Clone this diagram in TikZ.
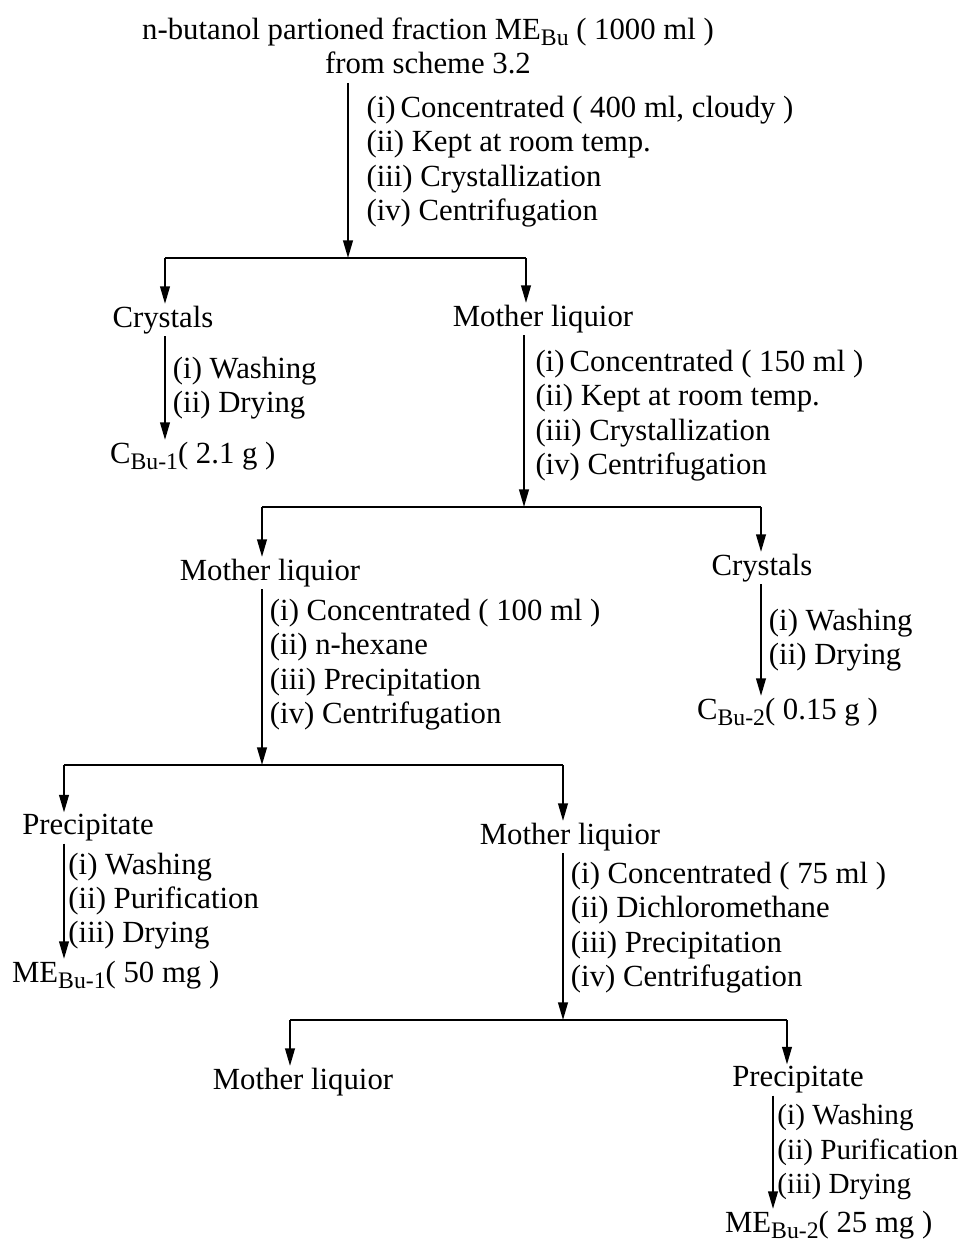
\documentclass[tikz,border=0pt]{standalone}
\usepackage{fontspec}
\setmainfont{Liberation Serif}
\usetikzlibrary{arrows.meta,positioning}
% lowered subscript for the fraction codes
\newcommand{\lowsub}[1]{\raisebox{-0.45ex}{\fontsize{13.5}{14}\selectfont #1}}

\begin{document}
\begin{tikzpicture}[x=0.02cm, y=-0.02cm,
  every node/.style={font=\fontsize{17.5}{19.5}\selectfont, inner sep=1pt},
  arr/.style={-{Triangle[length=10pt,width=5.5pt]}, line width=1.1pt},
  bar/.style={line width=1.1pt},
  steps/.style={right, align=left, inner xsep=4pt}]
\useasboundingbox (0,0) rectangle (961,1242);
% Starting fraction
\node[align=center, outer sep=4pt] (feed) at (428,46) {n-butanol partioned fraction ME\lowsub{Bu} ( 1000 ml )\\from scheme 3.2};
% Split points
\coordinate (j1) at (348,258);
\coordinate (b1l) at (165,258);
\coordinate (b1r) at (526,258);
\coordinate (j2) at (524,507);
\coordinate (b2l) at (262,507);
\coordinate (b2r) at (761,507);
\coordinate (j3) at (262,765);
\coordinate (b3l) at (64,765);
\coordinate (b3r) at (563,765);
\coordinate (j4) at (563,1020);
\coordinate (b4l) at (290,1020);
\coordinate (b4r) at (787,1020);
% First crystallization
\draw[arr] (feed.south -| j1) -- node[steps, xshift=6pt, yshift=5pt]{(i)\,Concentrated ( 400 ml, cloudy )\\(ii) Kept at room temp.\\(iii) Crystallization\\(iv) Centrifugation} (j1);
\draw[bar] (b1l) -- (b1r);
\node (cry1) at (163,320) {Crystals};
\node (ml1) at (543,319) {Mother liquior};
\draw[arr] (b1l) -- (cry1.north -| b1l);
\draw[arr] (b1r) -- (ml1.north -| b1r);
\node[anchor=west] (cb1) at (108,456) {C\lowsub{Bu-1}( 2.1 g )};
\draw[arr] (cry1.south -| b1l) -- node[steps]{(i) Washing\\(ii) Drying} (cb1.north -| b1l);
% Second crystallization
\draw[arr] (ml1.south -| j2) -- node[steps, xshift=2pt, yshift=3pt]{(i)\,Concentrated ( 150 ml )\\(ii) Kept at room temp.\\(iii) Crystallization\\(iv) Centrifugation} (j2);
\draw[bar] (b2l) -- (b2r);
\node (ml2) at (270,573) {Mother liquior};
\node (cry2) at (762,568) {Crystals};
\draw[arr] (b2l) -- (ml2.north -| b2l);
\draw[arr] (b2r) -- (cry2.north -| b2r);
\node[anchor=west] (cb2) at (695,712) {C\lowsub{Bu-2}( 0.15 g )};
\draw[arr] (cry2.south -| b2r) -- node[steps]{(i) Washing\\(ii) Drying} (cb2.north -| b2r);
% n-hexane precipitation
\draw[arr] (ml2.south -| j3) -- node[steps, yshift=7pt]{(i) Concentrated ( 100 ml )\\(ii) n-hexane\\(iii) Precipitation\\(iv) Centrifugation} (j3);
\draw[bar] (b3l) -- (b3r);
\node (pre1) at (88,828) {Precipitate};
\node (ml3) at (570,837) {Mother liquior};
\draw[arr] (b3l) -- (pre1.north -| b3l);
\draw[arr] (b3r) -- (ml3.north -| b3r);
\node[anchor=west] (me1) at (10,975) {ME\lowsub{Bu-1}( 50 mg )};
\draw[arr] (pre1.south -| b3l) -- node[steps, inner xsep=2pt]{(i) Washing\\(ii) Purification\\(iii) Drying} (me1.north -| b3l);
% dichloromethane precipitation
\draw[arr] (ml3.south -| j4) -- node[steps, yshift=5pt]{(i) Concentrated ( 75 ml )\\(ii) Dichloromethane\\(iii) Precipitation\\(iv) Centrifugation} (j4);
\draw[bar] (b4l) -- (b4r);
\node (ml4) at (303,1082) {Mother liquior};
\node (pre2) at (798,1080) {Precipitate};
\draw[arr] (b4l) -- (ml4.north -| b4l);
\draw[arr] (b4r) -- (pre2.north -| b4r);
\node[anchor=west] (me2) at (723,1225) {ME\lowsub{Bu-2}( 25 mg )};
\draw[arr] ([xshift=-0.5cm]pre2.south) -- node[steps, inner xsep=2pt, font=\fontsize{16.6}{19.5}\selectfont]{(i) Washing\\(ii) Purification\\(iii) Drying} ([xshift=-0.5cm]pre2.south |- me2.north);
\end{tikzpicture}
\end{document}
